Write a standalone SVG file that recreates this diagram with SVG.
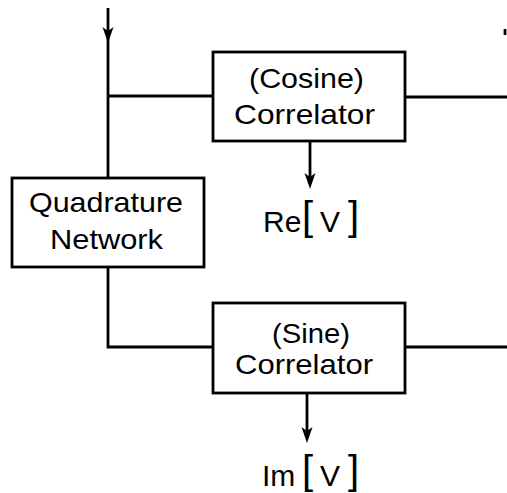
<svg xmlns="http://www.w3.org/2000/svg" width="507" height="493" viewBox="0 0 507 493">
<style>
.box{fill:#fff;stroke:#000;stroke-width:2.8}
.ln{fill:none;stroke:#000;stroke-width:2.8}
.ah{fill:#000;stroke:none}
.t{font-family:"Liberation Sans",Arial,sans-serif;font-size:28px;fill:#000;text-anchor:middle}
.lab{font-family:"Liberation Sans",Arial,sans-serif;font-size:30px;fill:#000}
.br{font-size:40px}
</style>
<rect width="507" height="493" fill="#fff"/>
<g id="connectors">
<path class="ln" d="M108,8 V177"/>
<path class="ah" d="M108,43 L102.5,27 L108,31 L113.5,27 Z"/>
<path class="ln" d="M108,96 H213"/>
<path class="ln" d="M405,97 H507"/>
<path class="ln" d="M108,267 V347 H213"/>
<path class="ln" d="M405,347 H507"/>
<path class="ln" d="M310,141 V178"/>
<path class="ah" d="M310,189 L304.5,173 L310,177 L315.5,173 Z"/>
<path class="ln" d="M307,393 V432"/>
<path class="ah" d="M307,443 L301.5,427 L307,431 L312.5,427 Z"/>
<path class="ln" d="M505,29 V35"/>
</g>
<g id="cosine">
<rect class="box" x="213" y="52" width="192" height="89"/>
<text class="t" x="306.5" y="88" textLength="115" lengthAdjust="spacingAndGlyphs">(Cosine)</text>
<text class="t" x="304.5" y="124" textLength="141" lengthAdjust="spacingAndGlyphs">Correlator</text>
</g>
<g id="quadrature">
<rect class="box" x="12" y="178" width="192" height="89"/>
<text class="t" x="106" y="212" textLength="154" lengthAdjust="spacingAndGlyphs">Quadrature</text>
<text class="t" x="106.5" y="249" textLength="113" lengthAdjust="spacingAndGlyphs">Network</text>
</g>
<g id="sine">
<rect class="box" x="213" y="303" width="192" height="90"/>
<text class="t" x="311" y="343" textLength="78" lengthAdjust="spacingAndGlyphs">(Sine)</text>
<text class="t" x="304" y="374" textLength="138" lengthAdjust="spacingAndGlyphs">Correlator</text>
</g>
<g id="re">
<text class="lab"><tspan x="263" y="232">Re</tspan><tspan class="br" x="302" y="230">[</tspan><tspan x="320" y="232">V</tspan><tspan class="br" x="348" y="230">]</tspan></text>
</g>
<g id="im">
<text class="lab"><tspan x="262" y="486">Im</tspan><tspan class="br" x="302" y="484">[</tspan><tspan x="320" y="486">V</tspan><tspan class="br" x="348" y="484">]</tspan></text>
</g>
</svg>
